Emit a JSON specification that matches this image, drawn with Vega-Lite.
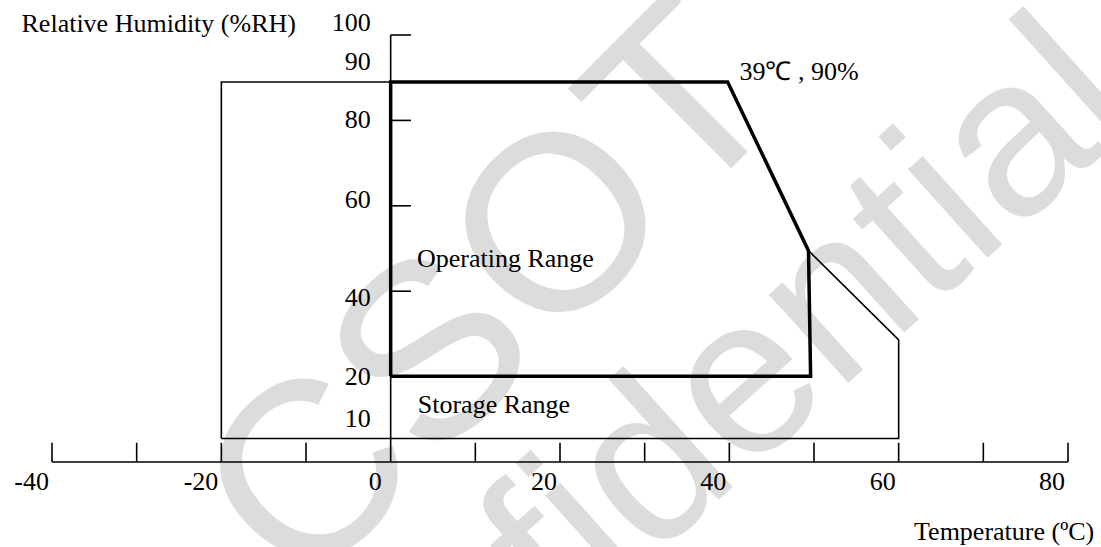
{
  "$schema": "https://vega.github.io/schema/vega-lite/v6.json",
  "width": 1016,
  "height": 427,
  "autosize": {"type": "none"},
  "padding": {"left": 52, "top": 35, "right": 33, "bottom": 85},
  "background": "white",
  "config": {
    "view": {"stroke": null},
    "text": {"font": "Liberation Serif", "fontSize": 26, "color": "black"}
  },
  "datasets": {
    "storage": [
      {"i": 0, "temp": -20, "rh": 5.5},
      {"i": 1, "temp": -20, "rh": 89},
      {"i": 2, "temp": 39.8, "rh": 89},
      {"i": 3, "temp": 49.35, "rh": 49.5},
      {"i": 4, "temp": 60, "rh": 28.6},
      {"i": 5, "temp": 60, "rh": 5.5},
      {"i": 6, "temp": -20, "rh": 5.5}
    ],
    "operating": [
      {"i": 0, "temp": 0, "rh": 20.1},
      {"i": 1, "temp": 0, "rh": 89},
      {"i": 2, "temp": 39.8, "rh": 89},
      {"i": 3, "temp": 49.35, "rh": 49.5},
      {"i": 4, "temp": 49.6, "rh": 20.1},
      {"i": 5, "temp": 0, "rh": 20.1}
    ],
    "rules": [
      {"x": -40, "x2": 80, "y": 0, "y2": 0},
      {"x": 0, "x2": 0, "y": 0, "y2": 100},
      {"x": 0, "x2": 2.4, "y": 100, "y2": 100},
      {"x": 0, "x2": 2.4, "y": 80, "y2": 80},
      {"x": 0, "x2": 2.4, "y": 60, "y2": 60},
      {"x": 0, "x2": 2.4, "y": 40, "y2": 40},
      {"x": -40, "x2": -40, "y": 0, "y2": 4.5},
      {"x": -30, "x2": -30, "y": 0, "y2": 4.5},
      {"x": -20, "x2": -20, "y": 0, "y2": 4.5},
      {"x": -10, "x2": -10, "y": 0, "y2": 4.5},
      {"x": 10, "x2": 10, "y": 0, "y2": 4.5},
      {"x": 20, "x2": 20, "y": 0, "y2": 4.5},
      {"x": 30, "x2": 30, "y": 0, "y2": 4.5},
      {"x": 40, "x2": 40, "y": 0, "y2": 4.5},
      {"x": 50, "x2": 50, "y": 0, "y2": 4.5},
      {"x": 60, "x2": 60, "y": 0, "y2": 4.5},
      {"x": 70, "x2": 70, "y": 0, "y2": 4.5},
      {"x": 80, "x2": 80, "y": 0, "y2": 4.5}
    ],
    "ylabels": [
      {"t": "100", "x": 0, "y": 102.8},
      {"t": "90", "x": 0, "y": 93.7},
      {"t": "80", "x": 0, "y": 80},
      {"t": "60", "x": 0, "y": 61.4},
      {"t": "40", "x": 0, "y": 38.4},
      {"t": "20", "x": 0, "y": 20},
      {"t": "10", "x": 0, "y": 10}
    ],
    "xlabels": [
      {"t": "-40", "x": -40, "y": -6.5},
      {"t": "-20", "x": -20, "y": -6.5},
      {"t": "0", "x": -0.7, "y": -6.5},
      {"t": "20", "x": 20, "y": -6.5},
      {"t": "40", "x": 40, "y": -6.5},
      {"t": "60", "x": 60, "y": -6.5},
      {"t": "80", "x": 80, "y": -6.5}
    ],
    "notes": [
      {"t": "Relative Humidity (%RH)", "x": -43.6, "y": 100.7},
      {"t": "Operating Range", "x": 3.1, "y": 45.7},
      {"t": "Storage Range", "x": 3.2, "y": 11.4},
      {"t": "39℃ , 90%", "x": 41.2, "y": 89.5}
    ],
    "notesRight": [
      {"t": "Temperature (ºC)", "x": 83.1, "y": -18.3}
    ]
  },
  "layer": [
    {
      "data": {"values": [{"t": "CSOT", "x": 12.3, "y": 38.3}]},
      "mark": {"type": "text", "font": "Liberation Sans", "fontSize": 250, "color": "#dcdcdc", "angle": 315, "align": "center", "baseline": "middle"},
      "encoding": {
        "x": {"field": "x", "type": "quantitative", "scale": {"domain": [-40, 80], "nice": false, "zero": false}, "axis": null},
        "y": {"field": "y", "type": "quantitative", "scale": {"domain": [0, 100], "nice": false, "zero": false}, "axis": null},
        "text": {"field": "t"}
      }
    },
    {
      "data": {"values": [{"t": "Confidential", "x": 31.4, "y": -0.5}]},
      "mark": {"type": "text", "font": "Liberation Sans", "fontSize": 225, "color": "#dcdcdc", "angle": 318, "align": "center", "baseline": "middle"},
      "encoding": {
        "x": {"field": "x", "type": "quantitative"},
        "y": {"field": "y", "type": "quantitative"},
        "text": {"field": "t"}
      }
    },
    {
      "data": {"name": "storage"},
      "mark": {"type": "line", "color": "black", "strokeWidth": 1.6},
      "encoding": {
        "x": {"field": "temp", "type": "quantitative"},
        "y": {"field": "rh", "type": "quantitative"},
        "order": {"field": "i"}
      }
    },
    {
      "data": {"name": "operating"},
      "mark": {"type": "line", "color": "black", "strokeWidth": 3.5},
      "encoding": {
        "x": {"field": "temp", "type": "quantitative"},
        "y": {"field": "rh", "type": "quantitative"},
        "order": {"field": "i"}
      }
    },
    {
      "data": {"name": "rules"},
      "mark": {"type": "rule", "color": "black", "strokeWidth": 1.6},
      "encoding": {
        "x": {"field": "x", "type": "quantitative"},
        "x2": {"field": "x2"},
        "y": {"field": "y", "type": "quantitative"},
        "y2": {"field": "y2"}
      }
    },
    {
      "data": {"name": "ylabels"},
      "mark": {"type": "text", "align": "right", "baseline": "middle", "dx": -20},
      "encoding": {
        "x": {"field": "x", "type": "quantitative"},
        "y": {"field": "y", "type": "quantitative"},
        "text": {"field": "t"}
      }
    },
    {
      "data": {"name": "xlabels"},
      "mark": {"type": "text", "align": "right", "baseline": "alphabetic", "dx": -3},
      "encoding": {
        "x": {"field": "x", "type": "quantitative"},
        "y": {"field": "y", "type": "quantitative"},
        "text": {"field": "t"}
      }
    },
    {
      "data": {"name": "notes"},
      "mark": {"type": "text", "align": "left", "baseline": "alphabetic"},
      "encoding": {
        "x": {"field": "x", "type": "quantitative"},
        "y": {"field": "y", "type": "quantitative"},
        "text": {"field": "t"}
      }
    },
    {
      "data": {"name": "notesRight"},
      "mark": {"type": "text", "align": "right", "baseline": "alphabetic"},
      "encoding": {
        "x": {"field": "x", "type": "quantitative"},
        "y": {"field": "y", "type": "quantitative"},
        "text": {"field": "t"}
      }
    }
  ]
}
